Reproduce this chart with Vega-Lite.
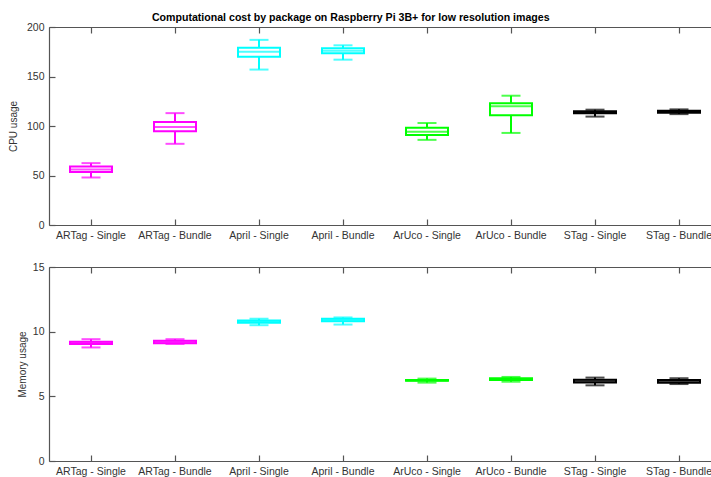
{
  "$schema": "https://vega.github.io/schema/vega-lite/v6.json",
  "padding": {"left": 8, "top": 12, "right": 0, "bottom": 0},
  "title": {"text": "Computational cost by package on Raspberry Pi 3B+ for low resolution images", "font": "Liberation Sans", "fontSize": 10.6, "fontWeight": "bold", "color": "#000", "anchor": "middle", "dx": -14, "offset": -1.5},
  "datasets": {
    "cpu": [
      {"pkg": "ARTag - Single", "fam": "ARTag", "lo": 48, "q1": 53.5, "med": 56, "q3": 59, "hi": 62.5},
      {"pkg": "ARTag - Bundle", "fam": "ARTag", "lo": 82, "q1": 94.6, "med": 99, "q3": 104, "hi": 113},
      {"pkg": "April - Single", "fam": "April", "lo": 157, "q1": 170, "med": 175, "q3": 179, "hi": 187},
      {"pkg": "April - Bundle", "fam": "April", "lo": 167, "q1": 173.4, "med": 176, "q3": 178.5, "hi": 181.5},
      {"pkg": "ArUco - Single", "fam": "ArUco", "lo": 86, "q1": 91, "med": 94.3, "q3": 98.3, "hi": 103},
      {"pkg": "ArUco - Bundle", "fam": "ArUco", "lo": 93, "q1": 110.8, "med": 120, "q3": 123, "hi": 130.6},
      {"pkg": "STag - Single", "fam": "STag", "lo": 109.5, "q1": 112.8, "med": 114, "q3": 115, "hi": 116.5},
      {"pkg": "STag - Bundle", "fam": "STag", "lo": 112, "q1": 113.4, "med": 114.5, "q3": 115.5, "hi": 116.8}
    ],
    "mem": [
      {"pkg": "ARTag - Single", "fam": "ARTag", "lo": 8.78, "q1": 9.05, "med": 9.14, "q3": 9.22, "hi": 9.42},
      {"pkg": "ARTag - Bundle", "fam": "ARTag", "lo": 9.05, "q1": 9.1, "med": 9.2, "q3": 9.3, "hi": 9.42},
      {"pkg": "April - Single", "fam": "April", "lo": 10.5, "q1": 10.68, "med": 10.78, "q3": 10.86, "hi": 11.0},
      {"pkg": "April - Bundle", "fam": "April", "lo": 10.55, "q1": 10.8, "med": 10.9, "q3": 11.0, "hi": 11.1},
      {"pkg": "ArUco - Single", "fam": "ArUco", "lo": 6.06, "q1": 6.2, "med": 6.23, "q3": 6.27, "hi": 6.37},
      {"pkg": "ArUco - Bundle", "fam": "ArUco", "lo": 6.13, "q1": 6.27, "med": 6.33, "q3": 6.4, "hi": 6.5},
      {"pkg": "STag - Single", "fam": "STag", "lo": 5.85, "q1": 6.07, "med": 6.17, "q3": 6.29, "hi": 6.45},
      {"pkg": "STag - Bundle", "fam": "STag", "lo": 5.95, "q1": 6.05, "med": 6.17, "q3": 6.27, "hi": 6.4}
    ]
  },
  "spacing": 21,
  "vconcat": [
    {
      "width": 672, "height": 198,
      "data": {"name": "cpu"},
      "encoding": {
        "color": {"field": "fam", "type": "nominal", "legend": null, "scale": {"domain": ["ARTag", "April", "ArUco", "STag"], "range": ["#ff00ff", "#00ffff", "#00ff00", "#000000"]}},
        "y": {"field": "lo", "type": "quantitative", "scale": {"domain": [0, 200], "nice": false}, "axis": {"title": "CPU usage", "values": [0, 50, 100, 150, 200], "grid": false, "tickSize": -6, "labelPadding": 11, "titlePadding": 8}}
      },
      "resolve": {"axis": {"x": "independent"}},
      "layer": [
        {"mark": {"type": "rule", "strokeWidth": 2}, "encoding": {
          "x": {"field": "pkg", "type": "nominal", "sort": null, "scale": {"paddingInner": 0, "paddingOuter": 0}, "axis": {"orient": "bottom", "title": null, "labelAngle": 0, "tickSize": -6, "labelPadding": 11}},
          "y": {"field": "lo", "type": "quantitative"}, "y2": {"field": "q1"}}},
        {"mark": {"type": "rule", "strokeWidth": 2}, "encoding": {
          "x": {"field": "pkg", "type": "nominal", "sort": null, "axis": {"orient": "top", "title": null, "labels": false, "tickSize": -6}},
          "y": {"field": "q3", "type": "quantitative"}, "y2": {"field": "hi"}}},
        {"mark": {"type": "bar", "filled": false, "strokeWidth": 2, "width": 42}, "encoding": {
          "x": {"field": "pkg", "type": "nominal", "sort": null, "axis": null},
          "y": {"field": "q1", "type": "quantitative"}, "y2": {"field": "q3"}}},
        {"mark": {"type": "tick", "size": 42, "thickness": 2}, "encoding": {
          "x": {"field": "pkg", "type": "nominal", "sort": null, "axis": null},
          "y": {"field": "med", "type": "quantitative"}}},
        {"mark": {"type": "tick", "size": 19, "thickness": 2}, "encoding": {
          "x": {"field": "pkg", "type": "nominal", "sort": null, "axis": null},
          "y": {"field": "lo", "type": "quantitative"}}},
        {"mark": {"type": "tick", "size": 19, "thickness": 2}, "encoding": {
          "x": {"field": "pkg", "type": "nominal", "sort": null, "axis": null},
          "y": {"field": "hi", "type": "quantitative"}}}
      ]
    },
    {
      "width": 672, "height": 194,
      "data": {"name": "mem"},
      "encoding": {
        "color": {"field": "fam", "type": "nominal", "legend": null, "scale": {"domain": ["ARTag", "April", "ArUco", "STag"], "range": ["#ff00ff", "#00ffff", "#00ff00", "#000000"]}},
        "y": {"field": "lo", "type": "quantitative", "scale": {"domain": [0, 15], "nice": false}, "axis": {"title": "Memory usage", "values": [0, 5, 10, 15], "grid": false, "tickSize": -6, "labelPadding": 11, "titlePadding": 5}}
      },
      "resolve": {"axis": {"x": "independent"}},
      "layer": [
        {"mark": {"type": "rule", "strokeWidth": 2}, "encoding": {
          "x": {"field": "pkg", "type": "nominal", "sort": null, "scale": {"paddingInner": 0, "paddingOuter": 0}, "axis": {"orient": "bottom", "title": null, "labelAngle": 0, "tickSize": -6, "labelPadding": 11}},
          "y": {"field": "lo", "type": "quantitative"}, "y2": {"field": "q1"}}},
        {"mark": {"type": "rule", "strokeWidth": 2}, "encoding": {
          "x": {"field": "pkg", "type": "nominal", "sort": null, "axis": {"orient": "top", "title": null, "labels": false, "tickSize": -6}},
          "y": {"field": "q3", "type": "quantitative"}, "y2": {"field": "hi"}}},
        {"mark": {"type": "bar", "filled": false, "strokeWidth": 2, "width": 42}, "encoding": {
          "x": {"field": "pkg", "type": "nominal", "sort": null, "axis": null},
          "y": {"field": "q1", "type": "quantitative"}, "y2": {"field": "q3"}}},
        {"mark": {"type": "tick", "size": 42, "thickness": 2}, "encoding": {
          "x": {"field": "pkg", "type": "nominal", "sort": null, "axis": null},
          "y": {"field": "med", "type": "quantitative"}}},
        {"mark": {"type": "tick", "size": 19, "thickness": 2}, "encoding": {
          "x": {"field": "pkg", "type": "nominal", "sort": null, "axis": null},
          "y": {"field": "lo", "type": "quantitative"}}},
        {"mark": {"type": "tick", "size": 19, "thickness": 2}, "encoding": {
          "x": {"field": "pkg", "type": "nominal", "sort": null, "axis": null},
          "y": {"field": "hi", "type": "quantitative"}}}
      ]
    }
  ],
  "config": {
    "view": {"stroke": null},
    "axis": {"labelFont": "Liberation Sans", "labelFontSize": 10.5, "labelColor": "#333", "titleFont": "Liberation Sans", "titleFontSize": 10, "titleFontWeight": "normal", "titleColor": "#333", "domainColor": "#555", "tickColor": "#555", "domainWidth": 1.2, "tickWidth": 1.2, "grid": false}
  }
}
